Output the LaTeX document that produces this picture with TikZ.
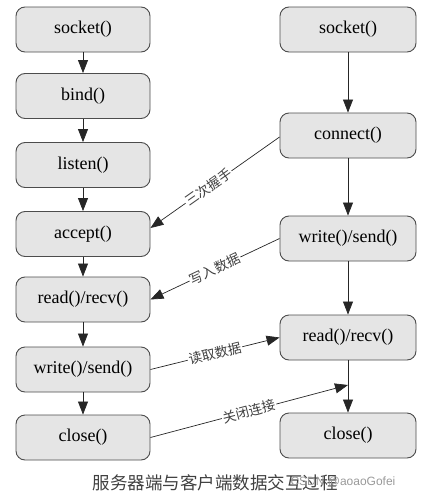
\documentclass[tikz,border=0pt]{standalone}
\usepackage{fontspec}
\setmainfont{Liberation Serif}
\newfontfamily\boxfont{Liberation Serif}
\newfontfamily\cjk{Noto Sans CJK SC}
\newfontfamily\wmfont{Liberation Sans}
\usetikzlibrary{arrows.meta}
\begin{document}
\begin{tikzpicture}[x=1pt,y=-1pt,
  box/.style={draw=black!70,fill=black!10,line width=0.9pt,rounded corners=9pt,
    minimum height=45pt,inner sep=0pt,font=\boxfont\fontsize{18}{20}\selectfont},
  lbox/.style={box,minimum width=134pt},
  rbox/.style={box,minimum width=136pt},
  arr/.style={draw=black!85,line width=0.7pt,-{Triangle[length=13pt,width=10pt]}},
  lab/.style={sloped,fill=white,inner sep=1pt,font=\cjk\fontsize{13.5}{15}\selectfont,text=black!75}]
\useasboundingbox (0,0) rectangle (426,498);
% left column
\node[lbox] (sL) at (83,29.5) {socket()};
\node[lbox] (bL) at (83,96) {bind()};
\node[lbox] (lL) at (83,165) {listen()};
\node[lbox] (aL) at (83,234) {accept()};
\node[lbox] (rL) at (83,299.5) {read()/recv()};
\node[lbox] (wL) at (83,369.5) {write()/send()};
\node[lbox] (cL) at (83,437.5) {close()};
% right column
\node[rbox] (sR) at (348,29.5) {socket()};
\node[rbox] (kR) at (348,135.5) {connect()};
\node[rbox] (wR) at (348,238.5) {write()/send()};
\node[rbox] (rR) at (348,337.5) {read()/recv()};
\node[rbox] (cR) at (348,435.5) {close()};
% vertical arrows
\draw[arr] (sL) -- (bL);
\draw[arr] (bL) -- (lL);
\draw[arr] (lL) -- (aL);
\draw[arr] (aL) -- (rL);
\draw[arr] (rL) -- (wL);
\draw[arr] (wL) -- (cL);
\draw[arr] (sR) -- (kR);
\draw[arr] (kR) -- (wR);
\draw[arr] (wR) -- (rR);
\draw[arr] (rR) -- (cR);
% cross arrows
\coordinate (acc) at ([yshift=6pt]aL.east);
\coordinate (cm) at (348,385);
\draw[arr] ([yshift=-1.5pt]kR.west) -- node[lab,pos=0.55] {三次握手} (acc);
\draw[arr] (wR.west) -- node[lab,pos=0.5] {写入数据} (rL.east);
\draw[arr] (wL.east) -- node[lab,pos=0.5] {读取数据} (rR.west);
\draw[arr] (cL.east) -- node[lab,pos=0.5] {关闭连接} (cm);
% caption
\node[font=\cjk\fontsize{17.5}{19}\selectfont,text=black!75] (cap) at (215,483) {服务器端与客户端数据交互过程};
\node[font=\wmfont\fontsize{12}{14}\selectfont,text=black!40,anchor=west] (wm) at (287,482) {CSDN @aoaoGofei};
\end{tikzpicture}
\end{document}
